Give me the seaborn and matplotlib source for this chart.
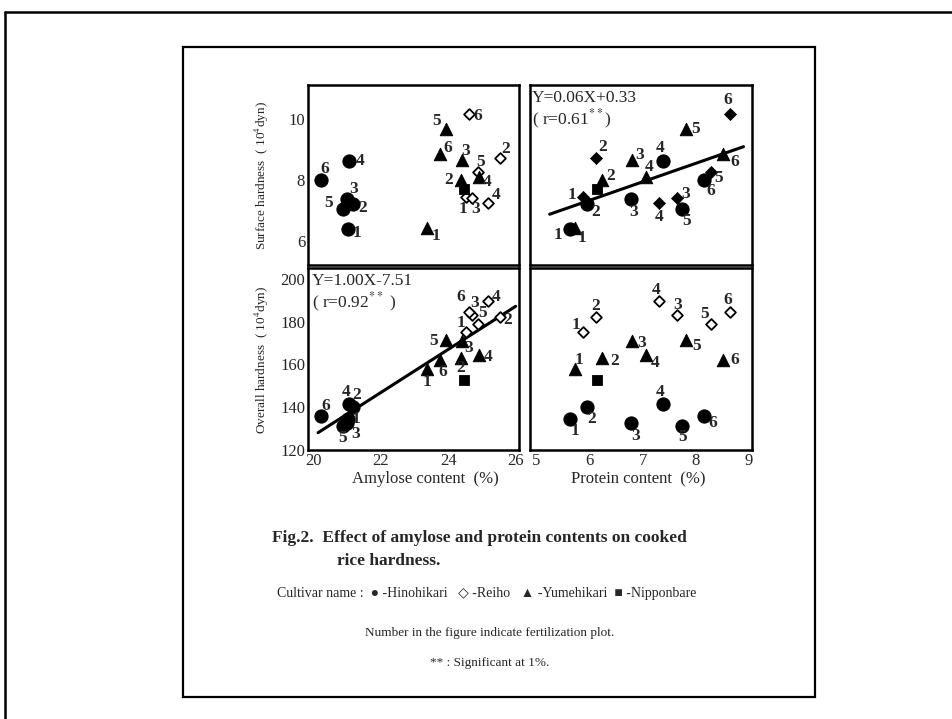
import numpy as np
import pandas as pd
import seaborn as sns
import matplotlib.pyplot as plt
from matplotlib.lines import Line2D
from matplotlib.patches import Rectangle

# fertilization plot numbers
plots = [1, 2, 3, 4, 5, 6]

# Hinohikari
hino_amylose = [21.03, 21.18, 21.00, 21.05, 20.88, 20.24]
hino_protein = [5.63, 5.96, 6.78, 7.38, 7.75, 8.15]
hino_surface = [6.37, 7.20, 7.37, 8.62, 7.05, 7.98]
hino_overall = [134.7, 140.1, 132.6, 141.3, 131.0, 136.0]

# Reiho
reiho_amylose = [24.53, 25.53, 24.72, 25.18, 24.90, 24.62]
reiho_protein = [5.88, 6.13, 7.65, 7.31, 8.28, 8.65]
reiho_surface = [7.44, 8.72, 7.38, 7.23, 8.25, 10.16]
reiho_overall = [174.9, 182.2, 183.2, 189.8, 178.8, 184.6]

# Yumehikari
yume_amylose = [23.37, 24.38, 24.41, 24.91, 23.93, 23.77]
yume_protein = [5.72, 6.24, 6.80, 7.06, 7.82, 8.52]
yume_surface = [6.40, 8.00, 8.63, 8.10, 9.66, 8.85]
yume_overall = [157.6, 163.1, 170.9, 164.6, 171.3, 162.2]

# Nipponbare (single plot, no number)
nip_amylose = [24.47]
nip_protein = [6.15]
nip_surface = [7.69]
nip_overall = [152.9]

# range of the drawn regression lines
amylose_line = [20.15, 26.0]
protein_line = [5.25, 8.9]

rows = []
for name, am, pr, su, ov, nums in [
        ("Hinohikari", hino_amylose, hino_protein, hino_surface, hino_overall, plots),
        ("Reiho", reiho_amylose, reiho_protein, reiho_surface, reiho_overall, plots),
        ("Yumehikari", yume_amylose, yume_protein, yume_surface, yume_overall, plots),
        ("Nipponbare", nip_amylose, nip_protein, nip_surface, nip_overall, [None])]:
    for a, p, s, o, n in zip(am, pr, su, ov, nums):
        rows.append({"cultivar": name, "plot": n, "amylose": a,
                     "protein": p, "surface": s, "overall": o})
df = pd.DataFrame(rows)

# label offsets in pixels (dx, dy) for each panel, order of plots 1..6
offsets = {
    "tl": {"Hinohikari": [(9, -4), (10, -4), (7, 10), (12, 0), (-14, 6), (4, 11)],
           "Yumehikari": [(9, -8), (-12, 0), (4, 9), (8, -5), (-9, 8), (7, 6)],
           "Reiho": [(-3, -12), (6, 9), (3, -11), (8, 8), (2, 10), (9, -2)]},
    "tr": {"Hinohikari": [(-12, -6), (8, -8), (3, -13), (-3, 13), (4, -12), (7, -11)],
           "Yumehikari": [(7, -10), (8, 4), (8, 5), (3, 10), (9, 0), (11, -8)],
           "Reiho": [(-11, 2), (6, 11), (9, 4), (0, -14), (8, -6), (-2, 14)]},
    "bl": {"Hinohikari": [(8, 0), (4, 12), (9, -11), (-2, 12), (0, -12), (5, 10)],
           "Yumehikari": [(0, -13), (0, -10), (7, -7), (9, -2), (-12, -1), (2, -12)],
           "Reiho": [(-5, 9), (8, -3), (2, 12), (8, 4), (4, 11), (-8, 15)]},
    "br": {"Hinohikari": [(5, -12), (4, -12), (5, -13), (-3, 12), (0, -11), (9, -7)],
           "Yumehikari": [(4, 9), (12, -3), (10, -2), (9, -8), (10, -6), (11, 0)],
           "Reiho": [(-7, 7), (-1, 11), (1, 10), (-3, 11), (-6, 10), (-2, 12)]},
}

sns.set_theme(style="white")
plt.rcParams['font.family'] = ['Liberation Serif', 'DejaVu Sans']
plt.rcParams['mathtext.fontset'] = 'stix'

W, H = 953, 719
fig = plt.figure(figsize=(W / 100, H / 100), dpi=100)


def box(x0, y0, x1, y1):
    return [x0 / W, 1 - y1 / H, (x1 - x0) / W, (y1 - y0) / H]


ax_tl = fig.add_axes(box(308, 85, 519, 265))
ax_tr = fig.add_axes(box(530, 85, 752, 265))
ax_bl = fig.add_axes(box(308, 268, 519, 450))
ax_br = fig.add_axes(box(530, 268, 752, 450))

panels = [("tl", ax_tl, "amylose", "surface"), ("tr", ax_tr, "protein", "surface"),
          ("bl", ax_bl, "amylose", "overall"), ("br", ax_br, "protein", "overall")]

for key, ax, xcol, ycol in panels:
    styles = {
        "Hinohikari": dict(marker="o", s=90, color="black", edgecolor="black"),
        "Reiho": dict(marker="D", s=30, color="white", edgecolor="black", linewidth=1.3),
        "Yumehikari": dict(marker="^", s=80, color="black", edgecolor="black"),
        "Nipponbare": dict(marker="s", s=55, color="black", edgecolor="black"),
    }
    if key == "tr":
        styles["Reiho"] = dict(marker="D", s=38, color="black", edgecolor="black")
    for cult, st in styles.items():
        sub = df[df["cultivar"] == cult]
        sns.scatterplot(data=sub, x=xcol, y=ycol, ax=ax, legend=False, zorder=3, **st)
        if cult == "Nipponbare":
            continue
        for (_, r), (dx, dy) in zip(sub.iterrows(), offsets[key][cult]):
            ax.annotate(str(int(r["plot"])), (r[xcol], r[ycol]), xytext=(dx, dy),
                        textcoords="offset pixels", ha="center", va="center",
                        fontsize=12.5, fontweight="bold")

    ax.set_xlabel("")
    ax.set_ylabel("")
    for sp in ax.spines.values():
        sp.set_linewidth(1.8)
        sp.set_color("black")
    ax.tick_params(direction="in", length=3, width=1, labelsize=12, pad=2)

# regression lines from the data
coef_bl = np.polyfit(df["amylose"], df["overall"], 1)
coef_tr = np.polyfit(df["protein"], df["surface"], 1)
xl = np.array(amylose_line)
sns.lineplot(x=xl, y=np.polyval(coef_bl, xl), ax=ax_bl, color="black", linewidth=2.2)
xp = np.array(protein_line)
sns.lineplot(x=xp, y=np.polyval(coef_tr, xp), ax=ax_tr, color="black", linewidth=2.2)

# axis ranges
for ax in (ax_tl, ax_tr):
    ax.set_ylim(5.2, 11.1)
for ax in (ax_bl, ax_br):
    ax.set_ylim(120, 205)
for ax in (ax_tl, ax_bl):
    ax.set_xlim(19.85, 26.1)
for ax in (ax_tr, ax_br):
    ax.set_xlim(4.88, 9.06)

ax_tl.set_yticks([6, 8, 10])
ax_bl.set_yticks([120, 140, 160, 180, 200])
ax_bl.set_xticks([20, 22, 24, 26])
ax_br.set_xticks([5, 6, 7, 8, 9])
ax_tl.set_xticks([])
ax_tr.set_xticks([])
ax_tr.set_yticks([])
ax_br.set_yticks([])

# x labels
fig.text(425 / W, 1 - 479 / H, "Amylose content  (%)", fontsize=12,
         ha="center", va="center")
fig.text(638 / W, 1 - 479 / H, "Protein content  (%)", fontsize=12,
         ha="center", va="center")

# equations
ax_tr.text(0.01, 0.97, "Y=0.06X+0.33", transform=ax_tr.transAxes,
           fontsize=12.5, va="top", ha="left")
ax_tr.text(0.01, 0.875, "( r=0.61$^{**}$)", transform=ax_tr.transAxes,
           fontsize=12.5, va="top", ha="left")
ax_bl.text(0.02, 0.97, "Y=1.00X-7.51", transform=ax_bl.transAxes,
           fontsize=12.5, va="top", ha="left")
ax_bl.text(0.02, 0.875, "( r=0.92$^{**}$ )", transform=ax_bl.transAxes,
           fontsize=12.5, va="top", ha="left")

# y labels
fig.text(262 / W, 1 - 176 / H, "Surface hardness  ( 10$^{4}$dyn)", rotation=90,
         ha="center", va="center", fontsize=9.5)
fig.text(262 / W, 1 - 360 / H, "Overall hardness  ( 10$^{4}$dyn)", rotation=90,
         ha="center", va="center", fontsize=9.5)

# caption
fig.text(272 / W, 1 - 538 / H, "Fig.2.  Effect of amylose and protein contents on cooked",
         fontsize=12.5, fontweight="bold", ha="left", va="center")
fig.text(337 / W, 1 - 561 / H, "rice hardness.", fontsize=12.5, fontweight="bold",
         ha="left", va="center")
fig.text(487 / W, 1 - 593 / H,
         "Cultivar name :  \u25cf -Hinohikari   \u25c7 -Reiho   \u25b2 -Yumehikari  \u25a0 -Nipponbare",
         fontsize=10, ha="center", va="center")
fig.text(490 / W, 1 - 633 / H, "Number in the figure indicate fertilization plot.",
         fontsize=9.5, ha="center", va="center")
fig.text(490 / W, 1 - 663 / H, "** : Significant at 1%.", fontsize=9.5,
         ha="center", va="center")

# inner and outer frames
fig.patches.append(Rectangle((183 / W, 1 - 697 / H), (815 - 183) / W, (697 - 47) / H,
                             transform=fig.transFigure, fill=False, edgecolor="black",
                             linewidth=1.6))
fig.lines.append(Line2D([5 / W, 1], [1 - 12 / H, 1 - 12 / H], transform=fig.transFigure,
                        color="black", linewidth=1.8))
fig.lines.append(Line2D([5 / W, 5 / W], [0, 1 - 12 / H], transform=fig.transFigure,
                        color="black", linewidth=1.8))

plt.savefig("out.png", dpi=100)
